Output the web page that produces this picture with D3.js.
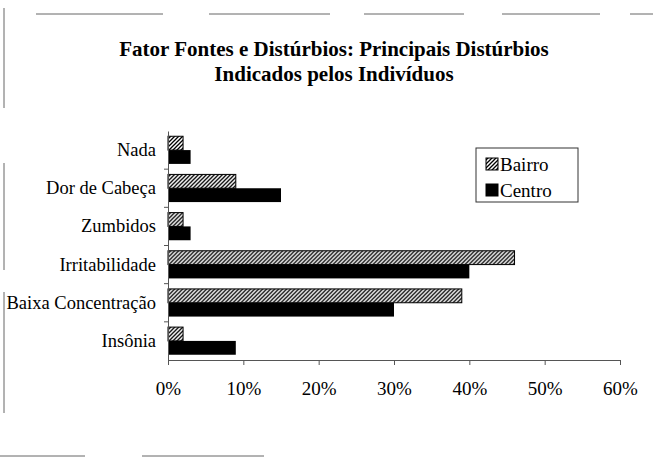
<!DOCTYPE html>
<html>
<head>
<meta charset="utf-8">
<script src="https://cdn.jsdelivr.net/npm/d3@7"></script>
<style>
  body { margin: 0; background: #fff; }
  svg { display: block; }
  text { font-family: "Liberation Serif", "Times New Roman", Times, "DejaVu Serif", serif; }
</style>
</head>
<body>
<div id="chart-area"></div>
<script>
var categories = ["Nada", "Dor de Cabeça", "Zumbidos", "Irritabilidade", "Baixa Concentração", "Insônia"];
var bairro = [2, 9, 2, 46, 39, 2];
var centro = [3, 15, 3, 40, 30, 9];
var seriesNames = ["Bairro", "Centro"];
var tickValues = [0, 10, 20, 30, 40, 50, 60];

var W = 653, H = 458;
var margin = { top: 131, right: 33, bottom: 98, left: 168 };
var width = W - margin.left - margin.right;
var height = H - margin.top - margin.bottom;

var svg = d3.select("#chart-area")
    .append("svg")
    .attr("width", W)
    .attr("height", H)
    .style("background-color", "#fff");

// hatch pattern for Bairro
var defs = svg.append("defs");
var pat = defs.append("pattern")
    .attr("id", "hatch")
    .attr("patternUnits", "userSpaceOnUse")
    .attr("width", 4)
    .attr("height", 4);
pat.append("rect").attr("width", 4).attr("height", 4).attr("fill", "#fff");
pat.append("path")
    .attr("d", "M-1,1 l2,-2 M0,4 l4,-4 M3,5 l2,-2")
    .attr("stroke", "#000")
    .attr("stroke-width", 1.3);

// scanned page frame remnants
var frame = svg.append("g").attr("stroke", "#666").attr("stroke-width", 1);
[[36, 163], [209, 330], [364, 464], [502, 600], [630, 653]].forEach(s => {
    frame.append("line").attr("x1", s[0]).attr("x2", s[1]).attr("y1", 14).attr("y2", 14);
});
[[8, 108], [163, 270], [292, 413]].forEach(s => {
    frame.append("line").attr("x1", 4).attr("x2", 4).attr("y1", s[0]).attr("y2", s[1]);
});
[[0, 85], [142, 264]].forEach(s => {
    frame.append("line").attr("x1", s[0]).attr("x2", s[1]).attr("y1", 456).attr("y2", 456);
});

// title
var title = svg.append("text")
    .attr("x", 334)
    .attr("text-anchor", "middle")
    .attr("font-weight", "bold")
    .attr("font-size", "21px")
    .attr("fill", "#000");
title.append("tspan").attr("x", 334).attr("y", 56).text("Fator Fontes e Distúrbios: Principais Distúrbios");
title.append("tspan").attr("x", 334).attr("y", 81).text("Indicados pelos Indivíduos");

var g = svg.append("g")
    .attr("transform", `translate(${margin.left}, ${margin.top})`);

var x = d3.scaleLinear()
    .domain([0, 60])
    .range([0, width]);

var y = d3.scaleBand()
    .domain(categories)
    .range([0, height])
    .paddingInner(0)
    .paddingOuter(0);

var ySub = d3.scaleBand()
    .domain(seriesNames)
    .range([0, y.bandwidth()])
    .paddingOuter(0.38)
    .paddingInner(0);

// bars
var rows = g.selectAll(".row")
    .data(categories)
    .enter()
    .append("g")
    .attr("class", "row")
    .attr("transform", d => `translate(0, ${y(d)})`);

rows.append("rect")
    .attr("x", x(0))
    .attr("y", ySub("Bairro"))
    .attr("width", (d, i) => x(bairro[i]) - x(0))
    .attr("height", ySub.bandwidth())
    .attr("fill", "url(#hatch)")
    .attr("stroke", "#000")
    .attr("stroke-width", 1);

rows.append("rect")
    .attr("x", x(0))
    .attr("y", ySub("Centro"))
    .attr("width", (d, i) => x(centro[i]) - x(0))
    .attr("height", ySub.bandwidth())
    .attr("fill", "#000");

// x axis
var xAxisGroup = g.append("g")
    .attr("transform", `translate(0, ${height})`)
    .call(d3.axisBottom(x)
        .tickValues(tickValues)
        .tickSize(5)
        .tickSizeOuter(0)
        .tickFormat(d => d + "%"));
xAxisGroup.attr("font-family", null);
xAxisGroup.select(".domain").attr("stroke", "#555");
xAxisGroup.selectAll(".tick line").attr("stroke", "#555");
xAxisGroup.selectAll("text")
    .attr("font-size", "19px")
    .attr("fill", "#000")
    .attr("y", 22);

// y axis
var yAxisGroup = g.append("g")
    .call(d3.axisLeft(y).tickSize(0).tickPadding(12));
yAxisGroup.attr("font-family", null);
yAxisGroup.select(".domain").attr("stroke", "#555");
yAxisGroup.selectAll("text")
    .attr("font-size", "18.5px")
    .attr("fill", "#000");
// category boundary ticks
g.append("g")
    .selectAll("line")
    .data(categories.slice(1))
    .enter()
    .append("line")
    .attr("x1", -4)
    .attr("x2", 0)
    .attr("y1", d => y(d))
    .attr("y2", d => y(d))
    .attr("stroke", "#555");

// legend
var legend = svg.append("g").attr("transform", "translate(476, 148)");
legend.append("rect")
    .attr("width", 102)
    .attr("height", 54)
    .attr("fill", "#fff")
    .attr("stroke", "#333");
var li = legend.selectAll(".li")
    .data(seriesNames)
    .enter()
    .append("g")
    .attr("transform", (d, i) => `translate(10, ${16 + i * 26})`);
li.append("rect")
    .attr("x", 0)
    .attr("y", -6)
    .attr("width", 12)
    .attr("height", 12)
    .attr("fill", d => d === "Bairro" ? "url(#hatch)" : "#000")
    .attr("stroke", "#000");
li.append("text")
    .attr("x", 14)
    .attr("y", 0)
    .attr("dy", "0.35em")
    .attr("font-size", "19px")
    .attr("fill", "#000")
    .text(d => d);
</script>
</body>
</html>
